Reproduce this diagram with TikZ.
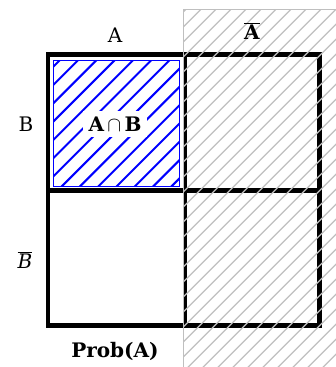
\documentclass[tikz,border=0pt]{standalone}
\usepackage{fontspec}
\setmainfont{DejaVu Serif}

\begin{document}
\begin{tikzpicture}[x=1pt, y=-1pt, font=\fontsize{20}{24}\selectfont,
  frame/.style={line width=4.5pt, line cap=rect},
  joint/.style={draw=blue, line width=0.9pt},
  jointline/.style={blue, line width=2pt},
  notA/.style={draw=black!25, line width=1pt},
  notAline/.style={black!25, line width=1.3pt},
  tag/.style={inner sep=2pt}]

\useasboundingbox (0,0) rectangle (336,367);

% the four cells
\coordinate (tl) at (48,54.5);
\coordinate (br) at (319.5,325.5);
\begin{scope}
  \clip (53,60) rectangle (179,186);
  \foreach \k in {-1,...,14}
    \draw[jointline] (60+18.3*\k,60) -- ++(-130,130);
\end{scope}
\draw[joint] (53,60) rectangle (179,186);
\node[tag, fill=white, inner sep=6pt, font=\fontsize{20}{24}\selectfont\bfseries] (AB) at (115,124) {A\,$\cap$\,B};

\draw[frame] (tl) rectangle (br);
\draw[frame] (185,54.5) -- (185,325.5);
\draw[frame] (48,190.5) -- (319.5,190.5);

% complement of A
\begin{scope}
  \clip (183,9) rectangle (345,380);
  \foreach \k in {-1,...,35}
    \draw[notAline] (201.3+15*\k,9) -- ++(-380,380);
\end{scope}
\draw[notA] (183,9) rectangle (345,380);

% labels
\node[tag] (A) at (115,35) {A};
\node[tag] (nA) at (252,31) {$\overline{\hbox{\bfseries A}}$};
\node[tag] (B) at (26,124) {B};
\node[tag] (nB) at (25,260) {$\overline{\hbox{\itshape B}}$};
\node[tag] (prob) at (115,351) {\bfseries Prob(A)};
\end{tikzpicture}
\end{document}
